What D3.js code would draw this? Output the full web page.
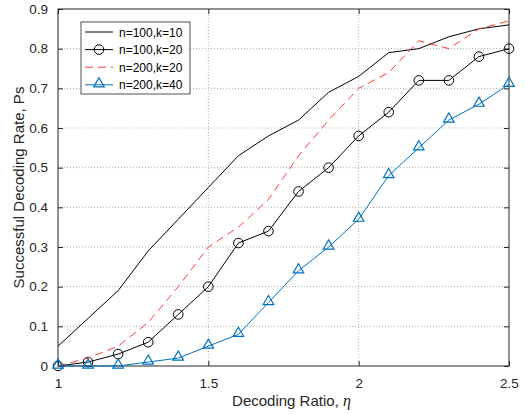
<!DOCTYPE html>
<html>
<head>
<meta charset="utf-8">
<script src="https://cdn.jsdelivr.net/npm/d3@7"></script>
<style>
  body { margin: 0; background: #fff; }
  svg { font-family: Arial, "Liberation Sans", sans-serif; }
</style>
</head>
<body>
<svg id="chart" width="525" height="414"></svg>
<script>
// decoding ratio (eta)
var etaValues = [1.0, 1.1, 1.2, 1.3, 1.4, 1.5, 1.6, 1.7, 1.8, 1.9, 2.0, 2.1, 2.2, 2.3, 2.4, 2.5];

var n100k10 = [0.05, 0.12, 0.19, 0.29, 0.37, 0.45, 0.53, 0.58, 0.62, 0.69, 0.73, 0.79, 0.80, 0.83, 0.85, 0.86];
var n100k20 = [0.00, 0.01, 0.03, 0.06, 0.13, 0.20, 0.31, 0.34, 0.44, 0.50, 0.58, 0.64, 0.72, 0.72, 0.78, 0.80];
var n200k20 = [0.00, 0.02, 0.05, 0.11, 0.20, 0.30, 0.35, 0.42, 0.53, 0.62, 0.70, 0.74, 0.82, 0.80, 0.85, 0.87];
var n200k40 = [0.00, 0.00, 0.00, 0.01, 0.02, 0.05, 0.08, 0.16, 0.24, 0.30, 0.37, 0.48, 0.55, 0.62, 0.66, 0.71];

var seriesNames = ["n=100,k=10", "n=100,k=20", "n=200,k=20", "n=200,k=40"];
var xTicks = [1, 1.5, 2, 2.5];
var yTicks = [0, 0.1, 0.2, 0.3, 0.4, 0.5, 0.6, 0.7, 0.8, 0.9];

var seriesList = [
    {name: seriesNames[0], values: n100k10, color: "#000000", dash: null, marker: null},
    {name: seriesNames[1], values: n100k20, color: "#000000", dash: null, marker: "circle"},
    {name: seriesNames[2], values: n200k20, color: "#ff3b3b", dash: "8,5", marker: null},
    {name: seriesNames[3], values: n200k40, color: "#0072BD", dash: null, marker: "triangle"}
];

var svg = d3.select("#chart");
var plotLeft = 58, plotRight = 509, plotTop = 9, plotBottom = 366;

var x = d3.scaleLinear().domain([1, 2.5]).range([plotLeft, plotRight]);
var y = d3.scaleLinear().domain([0, 0.9]).range([plotBottom, plotTop]);

// grid
var grid = svg.append("g").attr("class", "grid");
grid.selectAll(".gx").data(xTicks.slice(1, -1)).enter().append("line")
    .attr("x1", function (d) { return x(d); }).attr("x2", function (d) { return x(d); })
    .attr("y1", plotTop).attr("y2", plotBottom)
    .attr("stroke", "#b0b0b0").attr("stroke-width", 1).attr("stroke-dasharray", "1,2");
grid.selectAll(".gy").data(yTicks.slice(1, -1)).enter().append("line")
    .attr("x1", plotLeft).attr("x2", plotRight)
    .attr("y1", function (d) { return y(d); }).attr("y2", function (d) { return y(d); })
    .attr("stroke", "#b0b0b0").attr("stroke-width", 1).attr("stroke-dasharray", "1,2");

// axes (ticks inward like matlab)
var xAxis = d3.axisBottom(x).tickValues(xTicks).tickSizeInner(-5).tickSizeOuter(0).tickPadding(12)
    .tickFormat(function (d) { return d3.format("")(d); });
var yAxis = d3.axisLeft(y).tickValues(yTicks).tickSizeInner(-5).tickSizeOuter(0).tickPadding(10)
    .tickFormat(function (d) { return d === 0 ? "0" : d3.format(".1f")(d); });
var xTop = d3.axisTop(x).tickValues(xTicks).tickSizeInner(-5).tickSizeOuter(0).tickFormat("");
var yRight = d3.axisRight(y).tickValues(yTicks).tickSizeInner(-5).tickSizeOuter(0).tickFormat("");

function styleAxis(g) {
    g.select(".domain").remove();
    g.selectAll(".tick line").attr("stroke", "#262626");
    g.selectAll(".tick text").attr("fill", "#262626").style("font-size", "13.5px").style("font-family", "Arial, 'Liberation Sans', sans-serif");
}
svg.append("g").attr("transform", "translate(0," + plotBottom + ")").call(xAxis).call(styleAxis);
svg.append("g").attr("transform", "translate(" + plotLeft + ",0)").call(yAxis).call(styleAxis);
svg.append("g").attr("transform", "translate(0," + plotTop + ")").call(xTop).call(styleAxis);
svg.append("g").attr("transform", "translate(" + plotRight + ",0)").call(yRight).call(styleAxis);

svg.append("rect").attr("x", plotLeft).attr("y", plotTop).attr("width", plotRight - plotLeft).attr("height", plotBottom - plotTop)
    .attr("fill", "none").attr("stroke", "#262626").attr("stroke-width", 1);

// lines
var line = d3.line().x(function (d) { return x(d.x); }).y(function (d) { return y(d.y); });
var triangle = d3.symbol().type(d3.symbolTriangle).size(48);

seriesList.forEach(function (s) {
    var pts = etaValues.map(function (e, i) { return {x: e, y: s.values[i]}; });
    svg.append("path").datum(pts).attr("d", line)
        .attr("fill", "none").attr("stroke", s.color).attr("stroke-width", 1)
        .attr("stroke-dasharray", s.dash);
    if (s.marker === "circle") {
        svg.selectAll(null).data(pts).enter().append("circle")
            .attr("cx", function (d) { return x(d.x); }).attr("cy", function (d) { return y(d.y); })
            .attr("r", 4.8).attr("fill", "none").attr("stroke", s.color).attr("stroke-width", 1);
    } else if (s.marker === "triangle") {
        svg.selectAll(null).data(pts).enter().append("path")
            .attr("d", triangle)
            .attr("transform", function (d) { return "translate(" + x(d.x) + "," + (y(d.y) - 1) + ")"; })
            .attr("fill", "none").attr("stroke", s.color).attr("stroke-width", 1.2);
    }
});

// legend
var lg = svg.append("g").attr("transform", "translate(81,22)");
lg.append("rect").attr("width", 109).attr("height", 72).attr("fill", "#fff").attr("stroke", "#262626").attr("stroke-width", 0.8);
seriesList.forEach(function (s, i) {
    var ly = 10 + i * 17.6;
    lg.append("line").attr("x1", 4).attr("x2", 32).attr("y1", ly).attr("y2", ly)
        .attr("stroke", s.color).attr("stroke-width", 1).attr("stroke-dasharray", s.dash);
    if (s.marker === "circle") {
        lg.append("circle").attr("cx", 18).attr("cy", ly).attr("r", 4.8).attr("fill", "none").attr("stroke", s.color);
    } else if (s.marker === "triangle") {
        lg.append("path").attr("d", triangle).attr("transform", "translate(18," + (ly - 1) + ")")
            .attr("fill", "none").attr("stroke", s.color).attr("stroke-width", 1.2);
    }
    lg.append("text").attr("x", 38).attr("y", ly + 4.5).text(s.name)
        .style("font-size", "12px").attr("fill", "#000");
});

// axis titles
var xt = svg.append("text").attr("x", (plotLeft + plotRight) / 2 + 8).attr("y", 406).attr("text-anchor", "middle")
    .attr("fill", "#262626").style("font-size", "15px");
xt.append("tspan").text("Decoding Ratio, ");
xt.append("tspan").text("\u03b7").style("font-family", "'Liberation Serif', 'DejaVu Serif', serif").style("font-style", "italic").style("font-size", "16px");

svg.append("text").attr("transform", "translate(24," + ((plotTop + plotBottom) / 2) + ") rotate(-90)")
    .attr("text-anchor", "middle").attr("fill", "#262626").style("font-size", "15px")
    .text("Successful Decoding Rate, Ps");
</script>
</body>
</html>
